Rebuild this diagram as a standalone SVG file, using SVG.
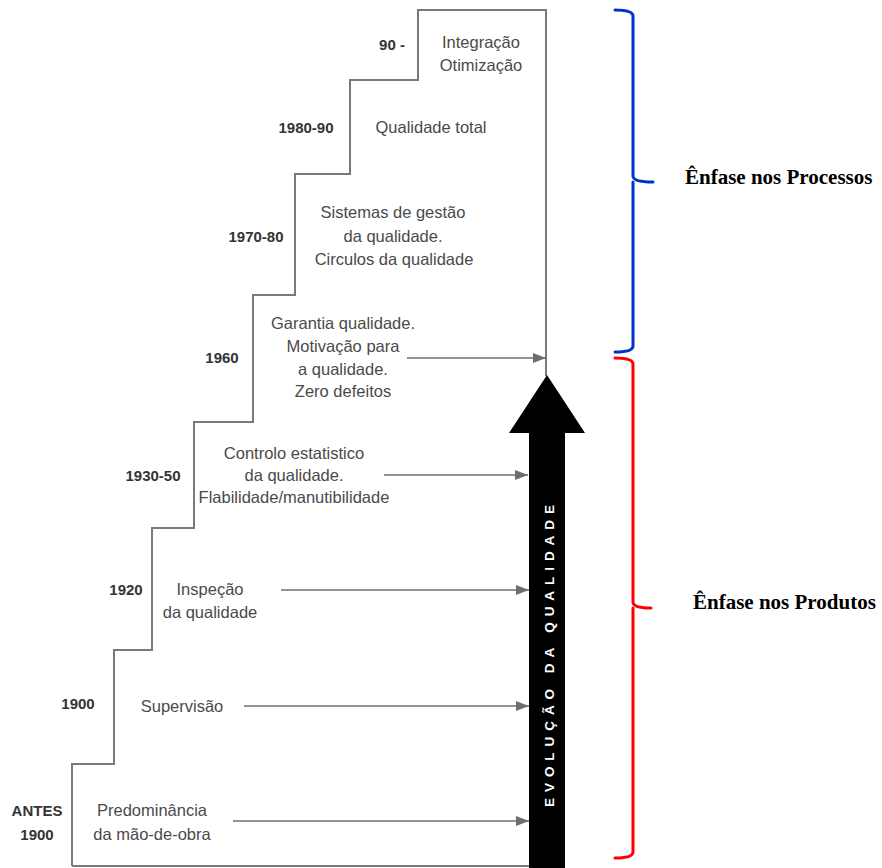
<svg xmlns="http://www.w3.org/2000/svg" width="882" height="868" viewBox="0 0 882 868">
<defs>
<style>
.stair{fill:none;stroke:#7a7a7a;stroke-width:2}
.yr{font-family:"Liberation Sans",Arial,sans-serif;font-weight:bold;font-size:15px;fill:#333;text-anchor:middle}
.ds{font-family:"Liberation Sans",Arial,sans-serif;font-size:16.5px;fill:#4a4a4a;text-anchor:middle}
.conn{stroke:#6e6e6e;stroke-width:1.6;fill:none;marker-end:url(#ah)}
.emph{font-family:"Liberation Serif","Times New Roman",serif;font-weight:bold;font-size:21px;fill:#000}
.brace{fill:none;stroke-width:3;stroke-linejoin:round;stroke-linecap:round}
</style>
<marker id="ah" markerUnits="userSpaceOnUse" markerWidth="14" markerHeight="10" refX="13" refY="5" orient="auto">
<path d="M0,0 L13,5 L0,10 Z" fill="#6e6e6e"/>
</marker>
</defs>
<rect width="882" height="868" fill="#fff"/>
<g id="staircase">
<path class="stair" d="M72,866 V764 H114 V650 H152 V528 H194 V422 H253 V295 H295 V174 H350 V80 H418 V10 H546 V376"/>
<path class="stair" d="M72,866 H530"/>
</g>
<g id="evolution-arrow">
<polygon points="547,375 585,433 565,433 565,868 529,868 529,433 509,433" fill="#000"/>
<text transform="translate(553.5,656) rotate(-90)" x="-151" y="0" textLength="302" lengthAdjust="spacing" font-family="'Liberation Sans',Arial,sans-serif" font-weight="bold" font-size="13.5" fill="#fff">EVOLUÇÃO DA QUALIDADE</text>
</g>
<g id="step-antes">
<text class="yr" x="37" y="816">ANTES</text>
<text class="yr" x="37" y="840">1900</text>
<text class="ds" x="152" y="816">Predominância</text>
<text class="ds" x="152" y="840">da mão-de-obra</text>
</g>
<g id="step-1900">
<text class="yr" x="78" y="709">1900</text>
<text class="ds" x="182" y="712">Supervisão</text>
</g>
<g id="step-1920">
<text class="yr" x="126" y="595">1920</text>
<text class="ds" x="210" y="595">Inspeção</text>
<text class="ds" x="210" y="618">da qualidade</text>
</g>
<g id="step-1930">
<text class="yr" x="153" y="481">1930-50</text>
<text class="ds" x="294" y="459">Controlo estatistico</text>
<text class="ds" x="294" y="481">da qualidade.</text>
<text class="ds" x="294" y="503">Flabilidade/manutibilidade</text>
</g>
<g id="step-1960">
<text class="yr" x="222" y="363">1960</text>
<text class="ds" x="343" y="329">Garantia qualidade.</text>
<text class="ds" x="343" y="352">Motivação para</text>
<text class="ds" x="343" y="375">a qualidade.</text>
<text class="ds" x="343" y="397">Zero defeitos</text>
</g>
<g id="step-1970">
<text class="yr" x="256" y="242">1970-80</text>
<text class="ds" x="393" y="218">Sistemas de gestão</text>
<text class="ds" x="393" y="242">da qualidade.</text>
<text class="ds" x="394" y="265">Circulos da qualidade</text>
</g>
<g id="step-1980">
<text class="yr" x="306" y="133">1980-90</text>
<text class="ds" x="431" y="133">Qualidade total</text>
</g>
<g id="step-90">
<text class="yr" x="392" y="50">90 -</text>
<text class="ds" x="481" y="48">Integração</text>
<text class="ds" x="481" y="71">Otimização</text>
</g>
<g id="connectors">
<line class="conn" x1="233" y1="821" x2="529" y2="821"/>
<line class="conn" x1="244" y1="706" x2="529" y2="706"/>
<line class="conn" x1="281" y1="590" x2="529" y2="590"/>
<line class="conn" x1="384" y1="475" x2="528" y2="475"/>
<line class="conn" x1="407" y1="358" x2="546" y2="358"/>
</g>
<g id="processos">
<path class="brace" stroke="#0033cc" d="M615,10 Q633,10 633,16 V176 Q633,182 653,182 M633,182 Q633,182 633,188 V346 Q633,352 615,352"/>
<text class="emph" x="685" y="184">Ênfase nos Processos</text>
</g>
<g id="produtos">
<path class="brace" stroke="#ff0000" d="M615,358 Q633,358 633,364 V602 Q633,608 651,608 M633,608 V852 Q633,858 615,858"/>
<text class="emph" x="693" y="609">Ênfase nos Produtos</text>
</g>
</svg>
